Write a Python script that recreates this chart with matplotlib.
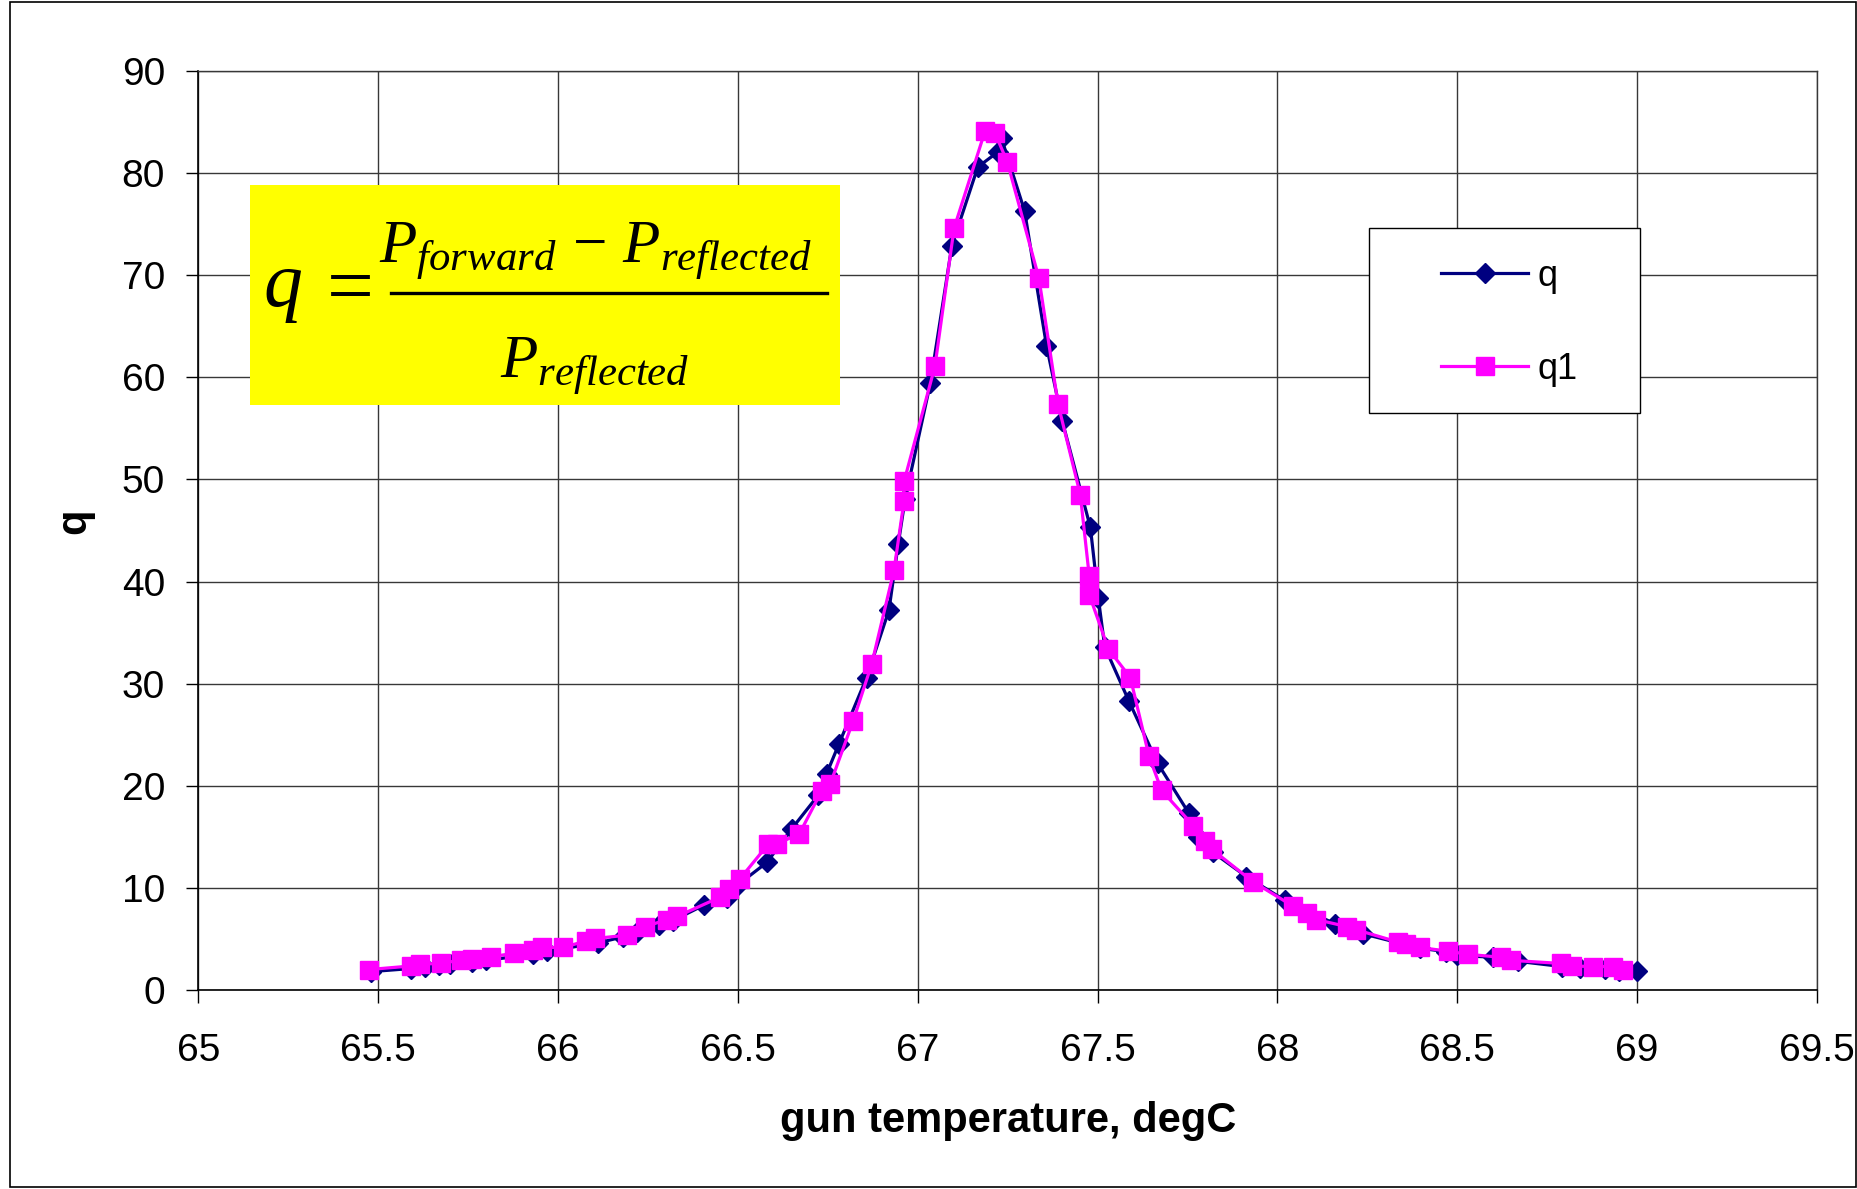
import matplotlib
matplotlib.use('Agg')
import matplotlib.pyplot as plt
from matplotlib.lines import Line2D
from matplotlib.patches import Rectangle

plt.rcParams['font.family'] = ['Liberation Sans', 'DejaVu Sans']
plt.rcParams['mathtext.fontset'] = 'custom'
plt.rcParams['mathtext.it'] = 'Liberation Serif:italic'
plt.rcParams['mathtext.rm'] = 'Liberation Serif'

# q scan: gun temperature (degC) and q
temp_q = [65.48, 65.59, 65.63, 65.67, 65.70, 65.76, 65.80, 65.93, 65.97, 66.11,
          66.18, 66.22, 66.28, 66.32, 66.405, 66.47, 66.50, 66.581, 66.65, 66.724,
          66.747, 66.781, 66.858, 66.920, 66.946, 66.965, 67.035, 67.095, 67.167, 67.224,
          67.233, 67.297, 67.358, 67.402, 67.48, 67.502, 67.52, 67.587, 67.667, 67.754,
          67.78, 67.82, 67.914, 68.02, 68.159, 68.238, 68.395, 68.469, 68.50, 68.60,
          68.67, 68.79, 68.84, 68.91, 68.95, 69.00]
q = [1.8, 2.1, 2.3, 2.4, 2.5, 2.7, 2.9, 3.5, 3.8, 4.6,
     5.2, 5.7, 6.4, 6.8, 8.3, 9.0, 10.3, 12.5, 15.8, 19.1,
     21.2, 24.1, 30.6, 37.2, 43.7, 48.1, 59.4, 72.9, 80.6, 82.1,
     83.4, 76.3, 63.1, 55.7, 45.3, 38.4, 33.6, 28.3, 22.2, 17.3,
     15.0, 13.5, 11.1, 8.8, 6.5, 5.5, 4.1, 3.75, 3.4, 3.2,
     2.8, 2.3, 2.2, 2.1, 1.9, 1.9]

# q1 scan
temp_q1 = [65.474, 65.590, 65.615, 65.675, 65.729, 65.761, 65.815, 65.877, 65.93, 65.956,
           66.013, 66.079, 66.104, 66.192, 66.242, 66.303, 66.331, 66.451, 66.474, 66.506,
           66.585, 66.608, 66.671, 66.733, 66.757, 66.820, 66.872, 66.934, 66.962, 66.962,
           67.048, 67.101, 67.187, 67.215, 67.249, 67.337, 67.39, 67.452, 67.477, 67.477,
           67.53, 67.591, 67.643, 67.678, 67.766, 67.80, 67.817, 67.932, 68.044, 68.081,
           68.108, 68.194, 68.219, 68.335, 68.358, 68.395, 68.474, 68.529, 68.622, 68.65,
           68.789, 68.82, 68.876, 68.932, 68.96]
q1 = [2.0, 2.35, 2.54, 2.6, 2.93, 3.0, 3.26, 3.59, 3.9, 4.17,
      4.17, 4.8, 5.05, 5.37, 6.2, 6.9, 7.2, 9.1, 9.9, 10.9,
      14.3, 14.3, 15.3, 19.5, 20.2, 26.3, 31.9, 41.1, 47.9, 49.8,
      61.1, 74.6, 84.1, 83.9, 81.1, 69.7, 57.4, 48.5, 40.5, 38.7,
      33.4, 30.6, 22.9, 19.55, 16.1, 14.6, 13.8, 10.6, 8.2, 7.5,
      6.9, 6.2, 5.9, 4.7, 4.5, 4.17, 3.8, 3.5, 3.2, 2.9,
      2.6, 2.35, 2.3, 2.3, 2.0]

x_ticks = [65, 65.5, 66, 66.5, 67, 67.5, 68, 68.5, 69, 69.5]
x_tick_labels = ['65', '65.5', '66', '66.5', '67', '67.5', '68', '68.5', '69', '69.5']
y_ticks = [0, 10, 20, 30, 40, 50, 60, 70, 80, 90]

W, H = 1858, 1189
fig = plt.figure(figsize=(W / 100, H / 100), dpi=100)
ax = fig.add_axes([198.3 / W, 199 / H, (1817 - 198.3) / W, 919 / H])

ax.plot(temp_q, q, color='#000080', marker='D', ms=10.5, lw=2.3,
        mec='#000080', mfc='#000080', label='q', zorder=3)
ax.plot(temp_q1, q1, color='#FF00FF', marker='s', ms=13.5, lw=2.3,
        mec='#FF00FF', mfc='#FF00FF', label='q1', zorder=3)

ax.set_xlim(65, 69.5)
ax.set_ylim(0, 90)
ax.set_xticks(x_ticks)
ax.set_xticklabels(x_tick_labels)
ax.set_yticks(y_ticks)
ax.grid(True, color='#383838', lw=1.0)
ax.set_axisbelow(True)
for side in ('top', 'right'):
    ax.spines[side].set_color('#383838')
    ax.spines[side].set_linewidth(1.0)
for side in ('left', 'bottom'):
    ax.spines[side].set_color('black')
    ax.spines[side].set_linewidth(1.2)

ax.tick_params(direction='out', length=9, width=1, labelsize=28, colors='black')
ax.tick_params(axis='x', pad=22)
ax.tick_params(axis='y', pad=15)

ax.set_xlabel('gun temperature, degC', fontsize=30, fontweight='bold')
ax.xaxis.set_label_coords(0.5, -0.121)
ax.set_ylabel('q', fontsize=30, fontweight='bold')
ax.yaxis.set_label_coords(-0.064, 0.51)

# yellow formula box: q = (P_forward - P_reflected) / P_reflected
ax.add_patch(Rectangle((0.032, 0.6366), 0.3644, 0.2394, transform=ax.transAxes,
                       facecolor='#FFFF00', edgecolor='none', zorder=4))
ax.text(0.0400, 0.744, r'$q$', transform=ax.transAxes, ha='left', va='baseline',
        fontsize=56, zorder=5)
ax.text(0.0889, 0.763, r'$=$', transform=ax.transAxes, ha='center', va='center',
        fontsize=60, zorder=5)
ax.text(0.2451, 0.791, r'$P_{forward}\,-\,P_{reflected}$', transform=ax.transAxes,
        ha='center', va='baseline', fontsize=44, zorder=5)
ax.add_artist(Line2D([0.1190, 0.3884], [0.7584, 0.7584], transform=ax.transAxes,
                     color='black', lw=2.4, zorder=5))
ax.text(0.2446, 0.666, r'$P_{reflected}$', transform=ax.transAxes,
        ha='center', va='baseline', fontsize=44, zorder=5)

# legend with its own frame
ax.add_patch(Rectangle((0.7234, 0.6275), 0.1673, 0.2013, transform=ax.transAxes,
                       facecolor='white', edgecolor='black', lw=1.0, zorder=4))
ax.legend(loc='center', bbox_to_anchor=(0.8099, 0.726), frameon=False,
          fontsize=26, handlelength=2.4, handletextpad=0.25, labelspacing=1.6,
          borderpad=0, markerscale=1.0).set_zorder(5)

fig.add_artist(Rectangle((10 / W, 2 / H), 1846 / W, 1185 / H, transform=fig.transFigure,
                         fill=False, edgecolor='black', lw=1.2))

fig.savefig('out.png', dpi=100)
